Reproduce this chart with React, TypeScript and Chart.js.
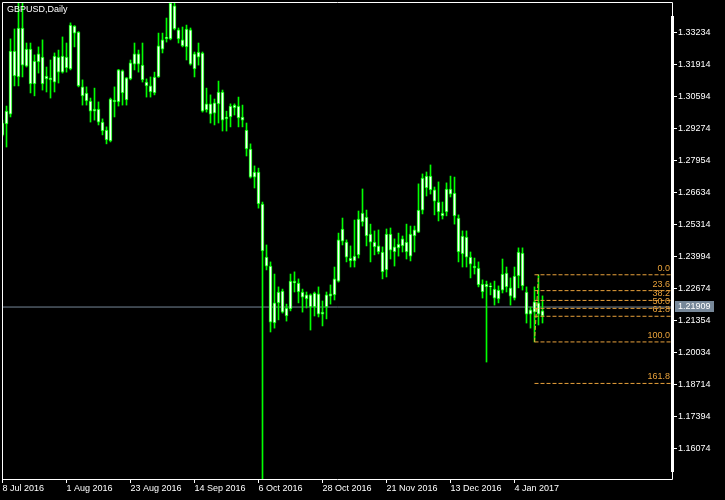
import React, { useEffect, useRef } from 'react';
import { Chart, registerables } from 'chart.js';

Chart.register(...registerables);

const symbolTitle = 'GBPUSD,Daily';

const opens = [
  1.2900, 1.2946, 1.2987, 1.3144, 1.3140, 1.3342, 1.3255, 1.3255, 1.3111, 1.3235,
  1.3222, 1.3144, 1.3128, 1.3119, 1.3160, 1.3160, 1.3177, 1.3173, 1.3350, 1.3325,
  1.3099, 1.3074, 1.3041, 1.3008, 1.3008, 1.2954, 1.2880, 1.2876, 1.3037, 1.3037,
  1.3165, 1.3045, 1.3132, 1.3193, 1.3235, 1.3189, 1.3119, 1.3078, 1.3074, 1.3140,
  1.3255, 1.3297, 1.3297, 1.3433, 1.3334, 1.3268, 1.3338, 1.3334, 1.3173, 1.3243,
  1.3239, 1.3029, 1.2987, 1.2991, 1.3078, 1.3078, 1.2967, 1.2975, 1.3024, 1.3020,
  1.2975, 1.2921, 1.2843, 1.2748, 1.2748, 1.2616, 1.2397, 1.2360, 1.2125, 1.2253,
  1.2257, 1.2154, 1.2183, 1.2298, 1.2290, 1.2253, 1.2241, 1.2191, 1.2249, 1.2245,
  1.2162, 1.2191, 1.2236, 1.2241, 1.2298, 1.2513, 1.2459, 1.2381, 1.2381, 1.2406,
  1.2579, 1.2562, 1.2492, 1.2459, 1.2443, 1.2336, 1.2344, 1.2492, 1.2418, 1.2435,
  1.2472, 1.2418, 1.2401, 1.2484, 1.2500, 1.2591, 1.2731, 1.2731, 1.2674, 1.2624,
  1.2567, 1.2583, 1.2678, 1.2661, 1.2558, 1.2484, 1.2480, 1.2397, 1.2360, 1.2352,
  1.2253, 1.2286, 1.2278, 1.2265, 1.2224, 1.2261, 1.2331, 1.2236, 1.2228, 1.2418,
  1.2414, 1.2253, 1.2162, 1.2212, 1.2208, 1.2154,
];

const highs = [
  1.2962, 1.3020, 1.3297, 1.3338, 1.3445, 1.3458, 1.3280, 1.3280, 1.3231, 1.3264,
  1.3293, 1.3181, 1.3210, 1.3239, 1.3251, 1.3305, 1.3280, 1.3363, 1.3352, 1.3327,
  1.3128, 1.3099, 1.3053, 1.3094, 1.3037, 1.2967, 1.2934, 1.3053, 1.3099, 1.3171,
  1.3169, 1.3138, 1.3210, 1.3280, 1.3251, 1.3280, 1.3132, 1.3140, 1.3160, 1.3321,
  1.3321, 1.3383, 1.3447, 1.3445, 1.3342, 1.3346, 1.3354, 1.3342, 1.3243, 1.3280,
  1.3243, 1.3094, 1.3066, 1.3049, 1.3123, 1.3086, 1.2999, 1.3029, 1.3029, 1.3057,
  1.3024, 1.2950, 1.2864, 1.2773, 1.2764, 1.2624, 1.2447, 1.2377, 1.2327, 1.2274,
  1.2265, 1.2203, 1.2327, 1.2336, 1.2307, 1.2265, 1.2253, 1.2245, 1.2253, 1.2274,
  1.2216, 1.2253, 1.2282, 1.2356, 1.2496, 1.2558, 1.2468, 1.2443, 1.2550, 1.2587,
  1.2678, 1.2591, 1.2533, 1.2505, 1.2509, 1.2439, 1.2513, 1.2517, 1.2472, 1.2496,
  1.2484, 1.2533, 1.2525, 1.2525, 1.2699, 1.2740, 1.2748, 1.2777, 1.2686, 1.2707,
  1.2624, 1.2703, 1.2731, 1.2727, 1.2571, 1.2505, 1.2505, 1.2418, 1.2393, 1.2377,
  1.2303, 1.2298, 1.2290, 1.2298, 1.2278, 1.2389, 1.2356, 1.2311, 1.2356, 1.2435,
  1.2435, 1.2274, 1.2191, 1.2274, 1.2324, 1.2237,
];

const lows = [
  1.2896, 1.2851, 1.2975, 1.3103, 1.3103, 1.3140, 1.3181, 1.3074, 1.3062, 1.3156,
  1.3086, 1.3078, 1.3053, 1.3078, 1.3115, 1.3156, 1.3160, 1.3169, 1.3264, 1.3099,
  1.3024, 1.3024, 1.2954, 1.2962, 1.2942, 1.2901, 1.2864, 1.2872, 1.2975, 1.3020,
  1.3024, 1.3024, 1.3128, 1.3169, 1.3160, 1.3119, 1.3057, 1.3057, 1.3066, 1.3138,
  1.3239, 1.3284, 1.3293, 1.3334, 1.3280, 1.3264, 1.3210, 1.3189, 1.3140, 1.3189,
  1.2995, 1.2995, 1.2950, 1.2942, 1.2950, 1.2917, 1.2917, 1.2934, 1.2983, 1.2934,
  1.2934, 1.2814, 1.2723, 1.2682, 1.2599, 1.1450, 1.2344, 1.2088, 1.2104, 1.2138,
  1.2166, 1.2133, 1.2175, 1.2253, 1.2208, 1.2170, 1.2187, 1.2096, 1.2154, 1.2150,
  1.2113, 1.2142, 1.2203, 1.2220, 1.2294, 1.2447, 1.2377, 1.2356, 1.2356, 1.2393,
  1.2525, 1.2443, 1.2377, 1.2406, 1.2410, 1.2307, 1.2315, 1.2389, 1.2360, 1.2401,
  1.2418, 1.2389, 1.2381, 1.2418, 1.2498, 1.2575, 1.2649, 1.2657, 1.2571, 1.2546,
  1.2554, 1.2567, 1.2645, 1.2533, 1.2377, 1.2356, 1.2356, 1.2311, 1.2327, 1.2274,
  1.2228, 1.1964, 1.2241, 1.2199, 1.2208, 1.2249, 1.2253, 1.2199, 1.2220, 1.2270,
  1.2261, 1.2125, 1.2104, 1.2047, 1.2117, 1.2125,
];

const closes = [
  1.2950, 1.2999, 1.3247, 1.3247, 1.3342, 1.3189, 1.3185, 1.3111, 1.3206, 1.3202,
  1.3111, 1.3132, 1.3136, 1.3226, 1.3222, 1.3226, 1.3222, 1.3354, 1.3321, 1.3103,
  1.3062, 1.3041, 1.2999, 1.2999, 1.2954, 1.2917, 1.2921, 1.3049, 1.3045, 1.3169,
  1.3074, 1.3136, 1.3198, 1.3235, 1.3193, 1.3128, 1.3103, 1.3103, 1.3140, 1.3268,
  1.3293, 1.3305, 1.3445, 1.3338, 1.3297, 1.3293, 1.3264, 1.3193, 1.3235, 1.3222,
  1.2999, 1.3004, 1.3029, 1.3033, 1.3029, 1.2962, 1.2975, 1.3020, 1.3012, 1.2971,
  1.2962, 1.2843, 1.2727, 1.2727, 1.2616, 1.2422, 1.2360, 1.2129, 1.2208, 1.2208,
  1.2170, 1.2187, 1.2298, 1.2290, 1.2253, 1.2232, 1.2224, 1.2241, 1.2191, 1.2162,
  1.2170, 1.2241, 1.2245, 1.2307, 1.2468, 1.2463, 1.2397, 1.2393, 1.2401, 1.2554,
  1.2542, 1.2484, 1.2459, 1.2439, 1.2418, 1.2418, 1.2492, 1.2426, 1.2439, 1.2451,
  1.2443, 1.2459, 1.2492, 1.2509, 1.2591, 1.2723, 1.2682, 1.2674, 1.2628, 1.2583,
  1.2579, 1.2678, 1.2657, 1.2567, 1.2418, 1.2410, 1.2397, 1.2368, 1.2352, 1.2282,
  1.2286, 1.2274, 1.2274, 1.2228, 1.2261, 1.2327, 1.2274, 1.2270, 1.2319, 1.2319,
  1.2278, 1.2162, 1.2179, 1.2170, 1.2162, 1.2175,
];

// x-axis: a date label every 16 bars
const xTickLabels = [
  '8 Jul 2016', '1 Aug 2016', '23 Aug 2016', '14 Sep 2016', '6 Oct 2016',
  '28 Oct 2016', '21 Nov 2016', '13 Dec 2016', '4 Jan 2017',
];
const xTickStep = 16;

const yTickValues = [
  1.33234, 1.31914, 1.30594, 1.29274, 1.27954, 1.26634, 1.25314,
  1.23994, 1.22674, 1.21354, 1.20034, 1.18714, 1.17394, 1.16074,
];

const bidPrice = 1.21909;

const fibLevels = [0.0, 23.6, 38.2, 50.0, 61.8, 100.0, 161.8];
const fibLowIndex = 133;
const fibHighIndex = 134;

const X_MIN = -0.125;
const X_MAX = 167.625;
const Y_MIN = 1.148158;
const Y_MAX = 1.344921;

const LIME = '#00ff00';
const FIB_COLOR = '#e9a23b';
const BID_COLOR = '#778899';
const FONT = '"Liberation Sans", Arial, sans-serif';
const FONT_SIZE = 9;

const noPad = (s: any) => {
  s.paddingTop = 0;
  s.paddingBottom = 0;
  s.paddingLeft = 0;
  s.paddingRight = 0;
};

export default function App() {
  const ref = useRef<HTMLCanvasElement>(null);

  useEffect(() => {
    const canvas = ref.current;
    if (!canvas) return;

    const fibHigh = highs[fibHighIndex];
    const fibLow = lows[fibLowIndex];
    const fibPrices = fibLevels.map((l) => fibHigh - (fibHigh - fibLow) * l / 100);

    const overlay = {
      id: 'mt4overlay',
      afterDraw(chart: any) {
        const { ctx, chartArea, scales } = chart;
        const { left, top, right, bottom } = chartArea;
        ctx.save();
        // fib labels
        ctx.font = `${FONT_SIZE}px ${FONT}`;
        ctx.fillStyle = FIB_COLOR;
        ctx.textAlign = 'right';
        ctx.textBaseline = 'bottom';
        fibLevels.forEach((l, k) => {
          const y = scales.y.getPixelForValue(fibPrices[k]);
          ctx.fillText(l.toFixed(1), right - 3, y - 2);
        });
        // frame
        ctx.strokeStyle = '#ffffff';
        ctx.lineWidth = 1;
        ctx.beginPath();
        ctx.moveTo(left + 0.5, bottom + 0.5);
        ctx.lineTo(left + 0.5, top + 0.5);
        ctx.lineTo(right - 0.5, top + 0.5);
        ctx.lineTo(right - 0.5, bottom + 0.5);
        ctx.lineTo(left + 0.5, bottom + 0.5);
        ctx.stroke();
        ctx.fillStyle = '#ffffff';
        ctx.fillRect(right - 2, top + 14, 3, bottom - top - 21);
        // bid label
        const by = Math.round(scales.y.getPixelForValue(bidPrice));
        ctx.fillStyle = BID_COLOR;
        ctx.fillRect(right + 2, by - 6, 39, 11);
        ctx.fillStyle = '#ffffff';
        ctx.textAlign = 'left';
        ctx.textBaseline = 'middle';
        ctx.fillText(bidPrice.toFixed(5), right + 5, by);
        // title
        ctx.textBaseline = 'top';
        ctx.fillText(symbolTitle, left + 5, top + 3);
        ctx.restore();
      },
    };

    const wickData = highs.map((h, i) => ({ x: i, y: [lows[i], h] }));
    const bodyData = opens.map((o, i) => ({ x: i, y: [o, closes[i]] }));

    const datasets: any[] = [
      {
        type: 'line',
        data: [{ x: X_MIN, y: bidPrice }, { x: X_MAX, y: bidPrice }],
        borderColor: BID_COLOR,
        borderWidth: 1,
        pointRadius: 0,
        order: 5,
      },
      {
        type: 'bar',
        data: wickData,
        backgroundColor: LIME,
        borderWidth: 0,
        barThickness: 1,
        grouped: false,
        order: 4,
      },
      {
        type: 'bar',
        data: bodyData,
        backgroundColor: '#ffffff',
        borderColor: LIME,
        borderWidth: 1,
        borderSkipped: false,
        barThickness: 3,
        grouped: false,
        order: 3,
      },
      ...fibPrices.map((p) => ({
        type: 'line',
        data: [{ x: fibLowIndex, y: p }, { x: X_MAX, y: p }],
        borderColor: FIB_COLOR,
        borderWidth: 1,
        borderDash: [4, 2],
        pointRadius: 0,
        order: 1,
      })),
      {
        type: 'line',
        data: [{ x: fibLowIndex, y: fibLow }, { x: fibHighIndex, y: fibHigh }],
        borderColor: FIB_COLOR,
        borderWidth: 1,
        borderDash: [4, 2],
        pointRadius: 0,
        order: 1,
      },
    ];

    const chart = new Chart(canvas, {
      type: 'bar',
      data: { datasets },
      options: {
        responsive: false,
        devicePixelRatio: 1,
        animation: false,
        events: [],
        layout: { padding: { left: 2, top: 2, right: 0, bottom: 0 } },
        plugins: { legend: { display: false }, tooltip: { enabled: false } },
        scales: {
          x: {
            type: 'linear',
            min: X_MIN,
            max: X_MAX,
            offset: false,
            position: 'bottom',
            afterBuildTicks: (s: any) => {
              s.ticks = xTickLabels.map((_, k) => ({ value: k * xTickStep }));
            },
            afterFit: (s: any) => { s.height = 21; noPad(s); },
            grid: {
              display: true,
              drawOnChartArea: false,
              drawTicks: true,
              tickLength: 4,
              color: '#ffffff',
              offset: false,
            },
            border: { display: false },
            ticks: {
              color: '#ffffff',
              font: { family: FONT, size: FONT_SIZE },
              align: 'start',
              padding: 0,
              autoSkip: false,
              maxRotation: 0,
              minRotation: 0,
              callback: (_v: any, idx: number) => xTickLabels[idx],
            },
          },
          y: {
            type: 'linear',
            min: Y_MIN,
            max: Y_MAX,
            position: 'right',
            afterBuildTicks: (s: any) => {
              s.ticks = yTickValues.map((v) => ({ value: v }));
            },
            afterFit: (s: any) => { s.width = 52; noPad(s); },
            grid: {
              display: true,
              drawOnChartArea: false,
              drawTicks: true,
              tickLength: 4,
              color: '#ffffff',
            },
            border: { display: false },
            ticks: {
              color: '#ffffff',
              font: { family: FONT, size: FONT_SIZE },
              padding: 1,
              callback: (v: any) => Number(v).toFixed(5),
            },
          },
        },
      } as any,
      plugins: [overlay],
    });

    return () => chart.destroy();
  }, []);

  return (
    <div style={{ position: 'fixed', left: 0, top: 0, width: 725, height: 500, background: '#000' }}>
      <canvas ref={ref} width={725} height={500} style={{ display: 'block', width: 725, height: 500 }} />
    </div>
  );
}
